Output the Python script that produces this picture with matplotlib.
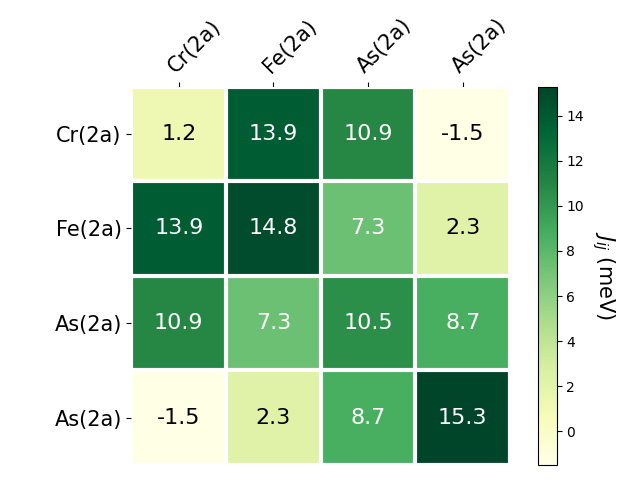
import numpy as np
import matplotlib
matplotlib.use("Agg")
import matplotlib.pyplot as plt

sites = ["Cr(2a)", "Fe(2a)", "As(2a)", "As(2a)"]
row0 = [1.2, 13.9, 10.9, -1.5]
row1 = [13.9, 14.8, 7.3, 2.3]
row2 = [10.9, 7.3, 10.5, 8.7]
row3 = [-1.5, 2.3, 8.7, 15.3]
jij = np.array([row0, row1, row2, row3])

fig, ax = plt.subplots(figsize=(6.4, 4.8), dpi=100)
im = ax.imshow(jij, cmap="YlGn")
cbar = ax.figure.colorbar(im, ax=ax)
cbar.ax.set_ylabel("$J_{ij}$ (meV)", rotation=-90, va="bottom", fontsize=15)

ax.set_xticks(np.arange(len(sites)))
ax.set_yticks(np.arange(len(sites)))
ax.set_xticklabels(sites, fontsize=15)
ax.set_yticklabels(sites, fontsize=15)
ax.tick_params(top=True, bottom=False, labeltop=True, labelbottom=False)
plt.setp(ax.get_xticklabels(), rotation=45, ha="left", rotation_mode="anchor")

for s in ax.spines.values():
    s.set_visible(False)
ax.set_xticks(np.arange(jij.shape[1] + 1) - .5, minor=True)
ax.set_yticks(np.arange(jij.shape[0] + 1) - .5, minor=True)
ax.grid(which="minor", color="w", linestyle="-", linewidth=3)
ax.tick_params(which="minor", bottom=False, left=False, top=False)

thresh = im.norm(jij.max()) / 2.
for i in range(jij.shape[0]):
    for j in range(jij.shape[1]):
        c = "white" if im.norm(jij[i, j]) > thresh else "black"
        ax.text(j, i, "{:.1f}".format(jij[i, j]), ha="center", va="center",
                color=c, fontsize=16)

fig.tight_layout()
fig.savefig("out.png")
